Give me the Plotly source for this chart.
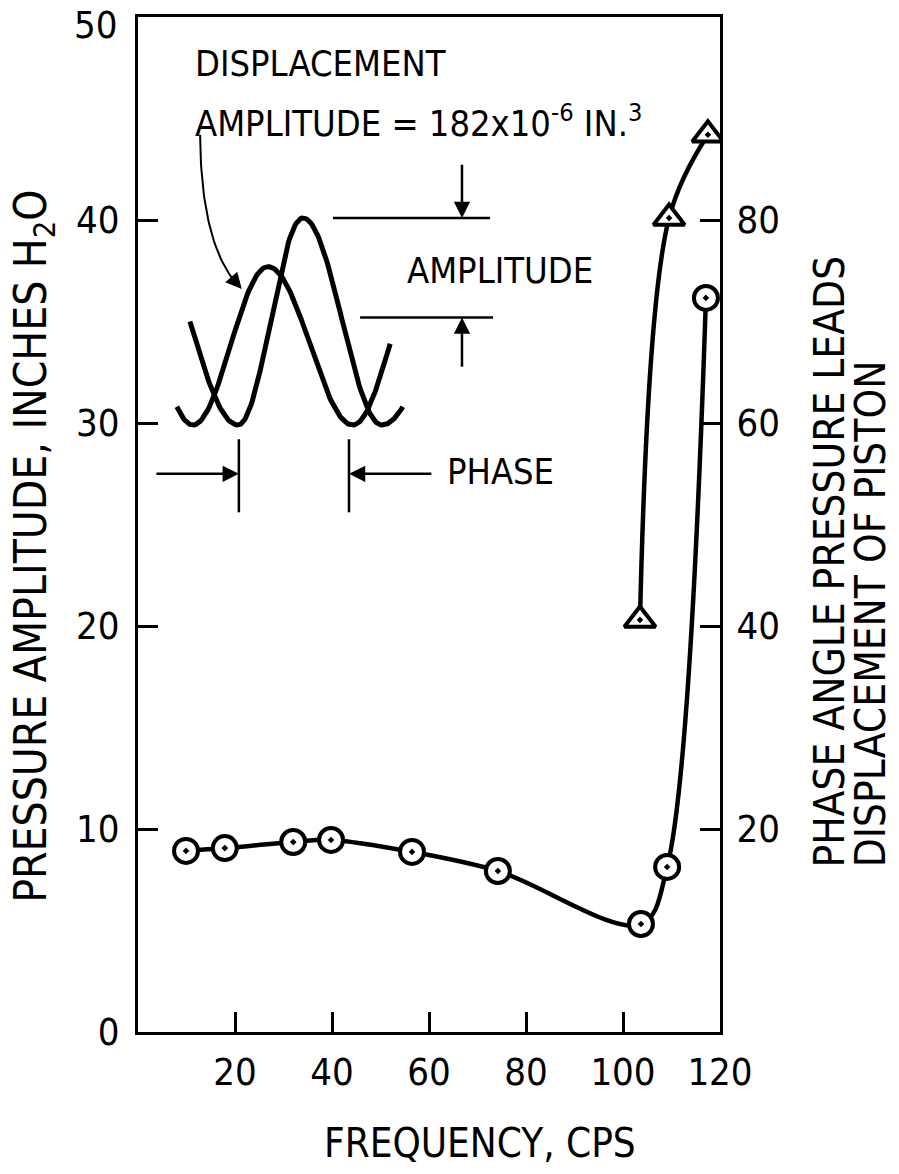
import numpy as np
import plotly.graph_objects as go

# Measured response of the chamber
freq_pressure = [9.9, 17.9, 32.0, 39.8, 56.5, 74.2, 103.7, 109.1, 117.1]   # CPS
pressure_amp = [8.92, 9.06, 9.36, 9.46, 8.87, 7.93, 5.32, 8.13, 36.16]     # inches H2O

freq_phase = [103.5, 109.5, 117.5]   # CPS
phase_lead = [40.6, 80.2, 88.4]      # degrees

x_ticks = [20, 40, 60, 80, 100, 120]
y_ticks = [0, 10, 20, 30, 40, 50]
y_top_label = "50"   # written just under the top edge so it stays on the page
y_tick_text = [str(v) for v in y_ticks[:-1]] + [""]
y2_ticks = [20, 40, 60, 80]

FONT = "DejaVu Sans Condensed, Liberation Sans Narrow, Arial Narrow, sans-serif"
INK = "black"


def half_cos(x0, y0, x1, y1, t_end=1.0, n=60):
    t = np.linspace(0.0, t_end, n)
    return x0 + (x1 - x0) * t, y0 + (y1 - y0) * (1 - np.cos(np.pi * t)) / 2


def tail(xt, yt, yp, x_end, y_end, n=40):
    """Partial half-cosine leaving a trough (xt, yt) toward a crest yp, cut at (x_end, y_end)."""
    f = (y_end - yt) / (yp - yt)
    t_end = np.arccos(1 - 2 * f) / np.pi
    h = (x_end - xt) / t_end
    return half_cos(xt, yt, xt + h, yp, t_end, n)


def sketch_wave(start, extremes, end, crest):
    xs, ys = [], []
    sx, sy = tail(extremes[0][0], extremes[0][1], crest, start[0], start[1])
    xs += list(sx[::-1]); ys += list(sy[::-1])
    for (xa, ya), (xb, yb) in zip(extremes[:-1], extremes[1:]):
        wx, wy = half_cos(xa, ya, xb, yb)
        xs += list(wx[1:]); ys += list(wy[1:])
    ex, ey = tail(extremes[-1][0], extremes[-1][1], crest, end[0], end[1])
    xs += list(ex[1:]); ys += list(ey[1:])
    return xs, ys


# Schematic of pressure and piston displacement waves
big_x, big_y = sketch_wave((10.7, 35.0), [(20.6, 29.9), (34.0, 40.1), (50.3, 29.9)], (54.6, 30.8), 40.1)
small_x, small_y = sketch_wave((8.0, 30.8), [(11.3, 29.9), (26.8, 37.7), (44.3, 29.9)], (52.0, 33.9), 37.7)

fig = go.Figure()

for wx, wy in [(big_x, big_y), (small_x, small_y)]:
    fig.add_trace(go.Scatter(x=wx, y=wy, mode="lines", line=dict(color=INK, width=5),
                             hoverinfo="skip", showlegend=False))

# Curved leader from the displacement note to the wave
tb = np.linspace(0, 1, 40)
p0, pc, p1 = (12.8, 44.2), (13.0, 38.5), (21.4, 36.6)
lead_x = (1 - tb) ** 2 * p0[0] + 2 * (1 - tb) * tb * pc[0] + tb ** 2 * p1[0]
lead_y = (1 - tb) ** 2 * p0[1] + 2 * (1 - tb) * tb * pc[1] + tb ** 2 * p1[1]
fig.add_trace(go.Scatter(x=lead_x[:-4], y=lead_y[:-4], mode="lines", line=dict(color=INK, width=2),
                         hoverinfo="skip", showlegend=False))

fig.add_trace(go.Scatter(
    x=freq_pressure, y=pressure_amp, mode="lines+markers",
    line=dict(color=INK, width=4.5, shape="spline"),
    marker=dict(symbol="circle-dot", size=24, color="white", line=dict(color=INK, width=4)),
    name="Pressure amplitude", showlegend=False))

fig.add_trace(go.Scatter(
    x=freq_phase, y=phase_lead, mode="lines+markers", yaxis="y2",
    line=dict(color=INK, width=4.5, shape="spline"),
    marker=dict(symbol="triangle-up-dot", size=27, color="white", line=dict(color=INK, width=4)),
    name="Phase angle", showlegend=False))

axis_common = dict(ticks="inside", ticklen=20, tickwidth=3, tickcolor=INK,
                   showline=True, linewidth=3, linecolor=INK, showgrid=False,
                   zeroline=False, automargin=False,
                   tickfont=dict(family=FONT, size=38, color=INK))

fig.update_layout(
    width=899, height=1174,
    margin=dict(l=138, r=179, t=17, b=142),
    plot_bgcolor="white", paper_bgcolor="white",
    font=dict(family=FONT, color=INK),
    showlegend=False,
    xaxis=dict(range=[0, 120], tickvals=x_ticks, mirror=True, ticklabelstandoff=4, **axis_common),
    yaxis=dict(range=[0, 50], tickvals=y_ticks, ticktext=y_tick_text, mirror=True,
               ticklabelstandoff=8, **axis_common),
    yaxis2=dict(range=[0, 100], tickvals=y2_ticks, overlaying="y", side="right",
                ticklabelstandoff=6, **axis_common),
)

# Reference lines of the schematic
line_style = dict(color=INK, width=2.5)
shapes = [
    dict(type="line", xref="x", yref="y", x0=40.2, y0=40.1, x1=72.6, y1=40.1, line=line_style),
    dict(type="line", xref="x", yref="y", x0=45.8, y0=35.2, x1=73.2, y1=35.2, line=line_style),
    dict(type="line", xref="x", yref="y", x0=20.8, y0=29.2, x1=20.8, y1=25.6, line=line_style),
    dict(type="line", xref="x", yref="y", x0=43.5, y0=29.2, x1=43.5, y1=25.6, line=line_style),
]
fig.update_layout(shapes=shapes)


def arrow(x, y, ax, ay, width=2.5, size=1.3):
    return dict(x=x, y=y, ax=ax, ay=ay, xref="x", yref="y", axref="x", ayref="y",
                text="", showarrow=True, arrowhead=2, arrowsize=size, arrowwidth=width,
                arrowcolor=INK, standoff=0, startstandoff=0)


def label(text, x, y, size=36, xanchor="left", xref="x", yref="y", angle=0, yanchor="middle"):
    return dict(text=text, x=x, y=y, xref=xref, yref=yref, showarrow=False,
                xanchor=xanchor, yanchor=yanchor, textangle=angle,
                font=dict(family=FONT, size=size, color=INK))


annotations = [
    arrow(66.8, 40.1, 66.8, 42.8),
    arrow(66.8, 35.2, 66.8, 32.7),
    arrow(20.8, 27.5, 3.5, 27.5),
    arrow(43.5, 27.5, 60.8, 27.5),
    arrow(p1[0], p1[1], lead_x[-6], lead_y[-6], width=2, size=1.6),
    label(y_top_label, -0.031, 1.016, size=38, xanchor="right", xref="paper", yref="paper",
          yanchor="top"),
    label("DISPLACEMENT", 11.3, 47.7),
    label("AMPLITUDE = 182x10<sup>-6</sup> IN.<sup>3</sup>", 11.3, 44.9),
    label("AMPLITUDE", 55.1, 37.5),
    label("PHASE", 63.3, 27.6),
    label("FREQUENCY, CPS", 0.588, -0.109, size=40, xanchor="center", xref="paper", yref="paper"),
    label("PRESSURE AMPLITUDE, INCHES H<sub>2</sub>O", -0.180, 0.125, size=44, xanchor="center",
          xref="paper", yref="paper", angle=-90, yanchor="bottom"),
    label("PHASE ANGLE PRESSURE LEADS", 1.189, 0.160, size=42, xanchor="center",
          xref="paper", yref="paper", angle=-90, yanchor="bottom"),
    label("DISPLACEMENT OF PISTON", 1.258, 0.160, size=42, xanchor="center",
          xref="paper", yref="paper", angle=-90, yanchor="bottom"),
]
fig.update_layout(annotations=annotations)

fig.write_html("out.html")
